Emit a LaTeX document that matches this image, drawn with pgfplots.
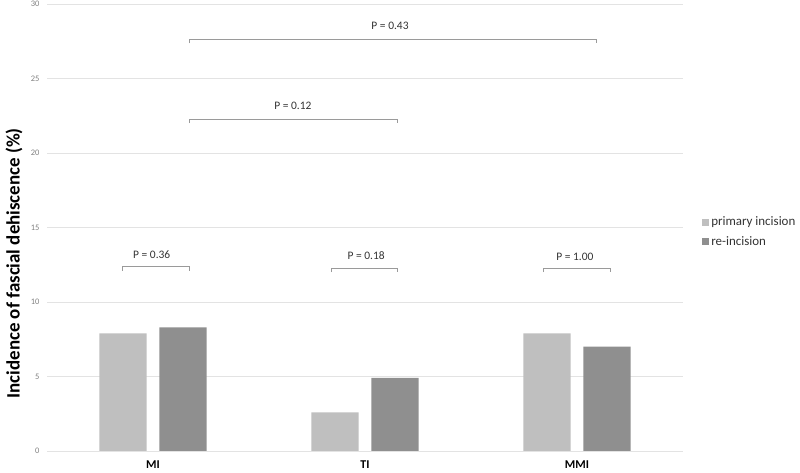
\documentclass[border=0pt]{standalone}
\usepackage{fontspec}
\setmainfont{Carlito}
\usepackage{pgfplots}
\pgfplotsset{compat=1.18}
\definecolor{lightbar}{HTML}{BFBFBF}
\definecolor{darkbar}{HTML}{8F8F8F}
\definecolor{gridc}{HTML}{E3E3E3}
\definecolor{brk}{HTML}{9A9A9A}
\definecolor{txt}{HTML}{333333}
\begin{document}
\begin{tikzpicture}
\begin{axis}[
  name=ax,
  scale only axis,
  width=636bp, height=447bp,
  xmin=-0.5, xmax=2.5,
  ymin=0, ymax=30,
  ytick={0,5,10,15,20,25,30},
  xtick={0,1,2},
  xticklabels={MI,TI,MMI},
  axis line style={draw=none},
  tick style={draw=none},
  ymajorgrids,
  grid style={gridc, line width=0.8bp},
  /pgf/number format/assume math mode=true,
  yticklabel style={font=\fontsize{8.5}{9}\selectfont, text=black!50, xshift=-4bp},
  xticklabel style={font=\bfseries\fontsize{12}{14}\selectfont, text=black, yshift=-4bp, inner sep=1bp},
  ylabel={Incidence of fascial dehiscence (\%)},
  every axis y label/.style={at={(axis description cs:0,0.42)}, xshift=-33bp, rotate=90, anchor=center, font=\bfseries\fontsize{19}{21}\selectfont},
  ybar,
  bar width=0.222,
  legend style={at={(axis description cs:1.03,0.49)}, anchor=west, draw=none, fill=none,
    font=\fontsize{13}{15}\selectfont, text=txt, row sep=5bp, inner sep=0pt},
  legend cell align=left,
  legend image code/.code={\fill[#1] (0bp,-3.5bp) rectangle (7bp,3.5bp);},
]
\addplot[fill=lightbar, draw=none, bar shift=-0.1415] coordinates {(0,7.9) (1,2.6) (2,7.9)};
\addlegendentry{primary incision}
\addplot[fill=darkbar, draw=none, bar shift=0.1415] coordinates {(0,8.3) (1,4.9) (2,7.0)};
\addlegendentry{re-incision}

\draw[brk, line width=1bp] (axis cs:-0.143,12.1) -- (axis cs:-0.143,12.37) -- (axis cs:0.171,12.37) -- (axis cs:0.171,12.1);
\draw[brk, line width=1bp] (axis cs:0.843,12.0) -- (axis cs:0.843,12.28) -- (axis cs:1.154,12.28) -- (axis cs:1.154,12.0);
\draw[brk, line width=1bp] (axis cs:1.844,12.0) -- (axis cs:1.844,12.28) -- (axis cs:2.156,12.28) -- (axis cs:2.156,12.0);
\draw[brk, line width=1bp] (axis cs:0.171,22.0) -- (axis cs:0.171,22.28) -- (axis cs:1.154,22.28) -- (axis cs:1.154,22.0);
\draw[brk, line width=1bp] (axis cs:0.171,27.35) -- (axis cs:0.171,27.63) -- (axis cs:2.094,27.63) -- (axis cs:2.094,27.35);

\node[font=\fontsize{11.5}{13}\selectfont, text=txt] at (axis cs:-0.006,13.15) {P = 0.36};
\node[font=\fontsize{11.5}{13}\selectfont, text=txt] at (axis cs:1.005,13.09) {P = 0.18};
\node[font=\fontsize{11.5}{13}\selectfont, text=txt] at (axis cs:1.99,13.02) {P = 1.00};
\node[font=\fontsize{11.5}{13}\selectfont, text=txt] at (axis cs:0.66,23.17) {P = 0.12};
\node[font=\fontsize{11.5}{13}\selectfont, text=txt] at (axis cs:1.118,28.56) {P = 0.43};
\end{axis}
\pgfresetboundingbox
\useasboundingbox (-47bp,-22bp) rectangle (753bp,451bp);
\end{tikzpicture}
\end{document}
